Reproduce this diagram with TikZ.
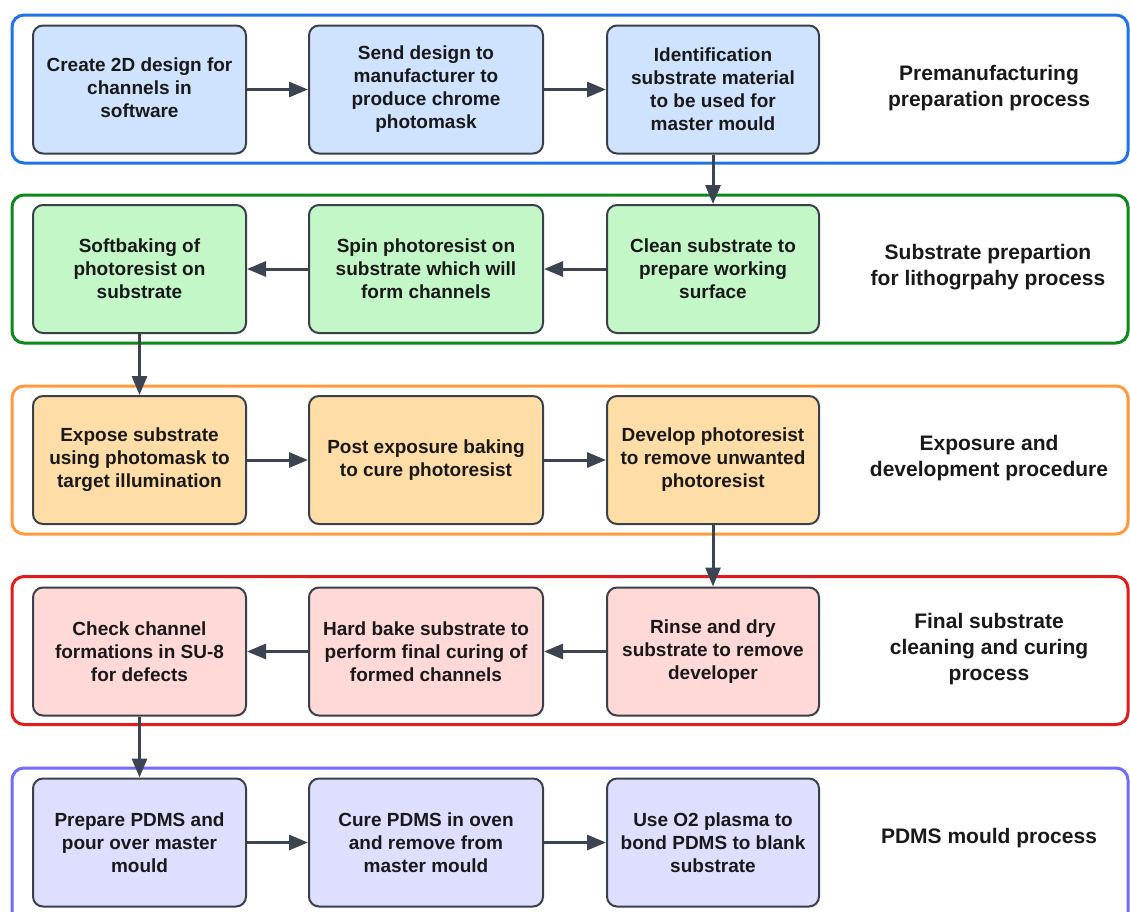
\documentclass[tikz,border=0pt]{standalone}
\usepackage{fontspec}
\setmainfont{Liberation Sans}
\usetikzlibrary{arrows.meta}
\definecolor{bluegrp}{HTML}{1F73E8}
\definecolor{greengrp}{HTML}{0B8A1B}
\definecolor{orangegrp}{HTML}{FF9A3C}
\definecolor{redgrp}{HTML}{E31B1B}
\definecolor{purplegrp}{HTML}{6F6CFF}
\definecolor{bluefill}{HTML}{CFE3FF}
\definecolor{greenfill}{HTML}{C3F7C8}
\definecolor{orangefill}{HTML}{FFDDA6}
\definecolor{redfill}{HTML}{FFD8D8}
\definecolor{purplefill}{HTML}{DEDEFF}
\definecolor{boxline}{HTML}{3A4049}
\definecolor{arrowc}{HTML}{3D4451}
\begin{document}
\begin{tikzpicture}[x=1pt,y=-1pt,
  grp/.style={rounded corners=12pt, line width=3pt, minimum width=1116pt, inner sep=0pt},
  box/.style={draw=boxline, line width=2pt, rounded corners=10pt, minimum width=213pt, minimum height=128pt, inner sep=0pt, align=center, font=\fontsize{19}{23}\selectfont\bfseries, text=black!90},
  lbl/.style={align=center, font=\fontsize{21}{26}\selectfont\bfseries, text=black!90},
  flow/.style={draw=arrowc, line width=3pt, -{Triangle[length=19pt,width=15pt]}}]
\useasboundingbox (0,0) rectangle (1130,911);
\fill[white] (0,0) rectangle (1130,911);
% groups
\node[grp, draw=bluegrp, minimum height=148pt] (g1) at (570,89) {};
\node[grp, draw=greengrp, minimum height=148pt] (g2) at (570,269) {};
\node[grp, draw=orangegrp, minimum height=148pt] (g3) at (570,460) {};
\node[grp, draw=redgrp, minimum height=148pt] (g4) at (570,650.5) {};
\node[grp, draw=purplegrp, minimum height=164pt] (g5) at (570,850) {};
% row 1
\node[box, fill=bluefill, minimum width=213pt] (a1) at (139.5,89.5) {Create 2D design for\\channels in\\software\vphantom{g}\\[-20pt]};
\node[box, fill=bluefill, minimum width=234pt] (a2) at (426,89.5) {Send design to\\manufacturer to\\produce chrome\\photomask};
\node[box, fill=bluefill, minimum width=212pt] (a3) at (713,89.5) {Identification\\substrate material\\to be used for\\master mould};
\node[lbl] (l1) at (989,88) {Premanufacturing\\preparation process};
% row 2
\node[box, fill=greenfill, minimum width=213pt] (b1) at (139.5,269) {Softbaking of\\photoresist on\\substrate};
\node[box, fill=greenfill, minimum width=234pt] (b2) at (426,269) {Spin photoresist on\\substrate which will\\form channels};
\node[box, fill=greenfill, minimum width=212pt] (b3) at (713,269) {Clean substrate to\\prepare working\\surface};
\node[lbl] (l2) at (988,267) {Substrate prepartion\\for lithogrpahy process};
% row 3
\node[box, fill=orangefill, minimum width=213pt] (c1) at (139.5,460) {Expose substrate\\using photomask to\\target illumination};
\node[box, fill=orangefill, minimum width=234pt] (c2) at (426,460) {Post exposure baking\\to cure photoresist};
\node[box, fill=orangefill, minimum width=212pt] (c3) at (713,460) {Develop photoresist\\to remove unwanted\\photoresist};
\node[lbl] (l3) at (989,458.5) {Exposure and\\development procedure};
% row 4
\node[box, fill=redfill, minimum width=213pt] (d1) at (139.5,651.5) {Check channel\\formations in SU-8\\for defects};
\node[box, fill=redfill, minimum width=234pt] (d2) at (426,651.5) {Hard bake substrate to\\perform final curing of\\formed channels};
\node[box, fill=redfill, minimum width=212pt] (d3) at (713,651.5) {Rinse and dry\\substrate to remove\\developer};
\node[lbl] (l4) at (989,649) {Final substrate\\cleaning and curing\\process};
% row 5
\node[box, fill=purplefill, minimum width=213pt] (e1) at (139.5,842.5) {Prepare PDMS and\\pour over master\\mould};
\node[box, fill=purplefill, minimum width=234pt] (e2) at (426,842.5) {Cure PDMS in oven\\and remove from\\master mould};
\node[box, fill=purplefill, minimum width=212pt] (e3) at (713,842.5) {Use O2 plasma to\\bond PDMS to blank\\substrate};
\node[lbl] (l5) at (989,838.5) {PDMS mould process};
% arrows
\draw[flow] (a1) -- (a2);
\draw[flow] (a2) -- (a3);
\draw[flow] (a3) -- (b3);
\draw[flow] (b3) -- (b2);
\draw[flow] (b2) -- (b1);
\draw[flow] (b1) -- (c1);
\draw[flow] (c1) -- (c2);
\draw[flow] (c2) -- (c3);
\draw[flow] (c3) -- (d3);
\draw[flow] (d3) -- (d2);
\draw[flow] (d2) -- (d1);
\draw[flow] (d1) -- (e1);
\draw[flow] (e1) -- (e2);
\draw[flow] (e2) -- (e3);
\end{tikzpicture}
\end{document}
